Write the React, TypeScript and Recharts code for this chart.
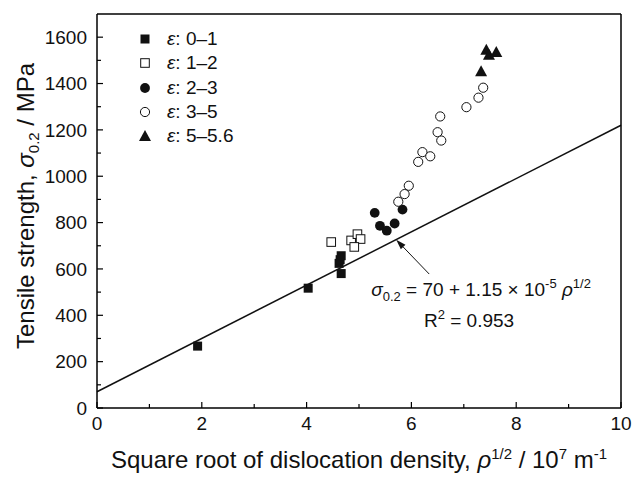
import React from 'react';
import { ComposedChart, Scatter, XAxis, YAxis, ReferenceLine, ReferenceDot, Legend, Label } from 'recharts';

const FONT = '"Liberation Sans", Arial, Helvetica, sans-serif';

// tensile strength (MPa) vs sqrt dislocation density (10^7 m^-1)
const strain01 = [
  { x: 1.92, y: 267 },
  { x: 4.03, y: 517 },
  { x: 4.62, y: 624 },
  { x: 4.64, y: 640 },
  { x: 4.66, y: 657 },
  { x: 4.66, y: 580 },
];
const strain12 = [
  { x: 4.47, y: 716 },
  { x: 4.85, y: 723 },
  { x: 4.97, y: 750 },
  { x: 5.03, y: 729 },
  { x: 4.91, y: 695 },
];
const strain23 = [
  { x: 5.3, y: 842 },
  { x: 5.4, y: 786 },
  { x: 5.53, y: 765 },
  { x: 5.68, y: 796 },
  { x: 5.83, y: 856 },
];
const strain35 = [
  { x: 5.75, y: 890 },
  { x: 5.87, y: 923 },
  { x: 5.95, y: 959 },
  { x: 6.13, y: 1062 },
  { x: 6.21, y: 1104 },
  { x: 6.36, y: 1086 },
  { x: 6.5, y: 1190 },
  { x: 6.57, y: 1154 },
  { x: 6.55, y: 1258 },
  { x: 7.05, y: 1298 },
  { x: 7.28, y: 1339 },
  { x: 7.37, y: 1382 },
];
const strain556 = [
  { x: 7.33, y: 1453 },
  { x: 7.43, y: 1546 },
  { x: 7.48, y: 1524 },
  { x: 7.62, y: 1536 },
];

// linear fit sigma = 70 + 115 * x, end points
const fitX = [0, 10];
const fitY = [70, 1220];

const legendNames = ['0–1', '1–2', '2–3', '3–5', '5–5.6'];
const legendShapes = ['square', 'openSquare', 'circle', 'openCircle', 'triangle'];

const xTicks = [0, 1, 2, 3, 4, 5, 6, 7, 8, 9, 10];
const yTicks = [0, 100, 200, 300, 400, 500, 600, 700, 800, 900, 1000, 1100, 1200, 1300, 1400, 1500, 1600];

const Marker = ({ kind, cx, cy }: any) => {
  if (cx == null || cy == null) return <g />;
  switch (kind) {
    case 'square':
      return <rect x={cx - 4.5} y={cy - 4.5} width={9} height={9} fill="#111" />;
    case 'openSquare':
      return <rect x={cx - 4.3} y={cy - 4.3} width={8.6} height={8.6} fill="#fff" stroke="#111" strokeWidth={1} />;
    case 'circle':
      return <circle cx={cx} cy={cy} r={4.9} fill="#111" />;
    case 'openCircle':
      return <circle cx={cx} cy={cy} r={4.6} fill="#fff" stroke="#111" strokeWidth={1} />;
    default:
      return <path d={`M${cx},${cy - 6} L${cx + 6},${cy + 5} L${cx - 6},${cy + 5} Z`} fill="#111" />;
  }
};

const BottomTick = ({ x, y, payload }: any) => {
  const major = payload.value % 2 === 0;
  return (
    <g>
      <line x1={x} x2={x} y1={y - 8} y2={y - 8 - (major ? 6 : 4)} stroke="#000" strokeWidth={1.2} />
      {major && (
        <text x={x} y={y} dy="0.72em" textAnchor="middle" fontSize={19} fontFamily={FONT} fill="#111">
          {payload.value}
        </text>
      )}
    </g>
  );
};

const TopTick = ({ x, y, payload }: any) => {
  const major = payload.value % 2 === 0;
  return <line x1={x} x2={x} y1={y} y2={y + (major ? 6 : 4)} stroke="#000" strokeWidth={1.2} />;
};

const LeftTick = ({ x, y, payload }: any) => {
  const major = payload.value % 200 === 0;
  return (
    <g>
      <line x1={x + 10} x2={x + 10 + (major ? 6 : 4)} y1={y} y2={y} stroke="#000" strokeWidth={1.2} />
      {major && (
        <text x={x} y={y} dy="0.36em" textAnchor="end" fontSize={19} fontFamily={FONT} fill="#111">
          {payload.value}
        </text>
      )}
    </g>
  );
};

const RightTick = ({ x, y, payload }: any) => {
  const major = payload.value % 200 === 0;
  return <line x1={x} x2={x - (major ? 6 : 4)} y1={y} y2={y} stroke="#000" strokeWidth={1.2} />;
};

const XTitle = ({ viewBox }: any) => {
  const cx = viewBox.x + viewBox.width / 2;
  return (
    <text x={cx} y={viewBox.y + 60} textAnchor="middle" fontSize={24} fontFamily={FONT} fill="#111">
      Square root of dislocation density,{' '}
      <tspan fontStyle="italic">ρ</tspan>
      <tspan fontSize={15} dy={-9}>1/2</tspan>
      <tspan dy={9}> / 10</tspan>
      <tspan fontSize={15} dy={-9}>7</tspan>
      <tspan dy={9}> m</tspan>
      <tspan fontSize={15} dy={-9}>-1</tspan>
    </text>
  );
};

const YTitle = ({ viewBox }: any) => {
  const cy = viewBox.y + viewBox.height / 2 - 5;
  const cx = 34;
  return (
    <text x={cx} y={cy} textAnchor="middle" transform={`rotate(-90 ${cx} ${cy})`} fontSize={24} fontFamily={FONT} fill="#111">
      Tensile strength, <tspan fontStyle="italic">σ</tspan>
      <tspan fontSize={15} dy={5}>0.2</tspan>
      <tspan dy={-5}> / MPa</tspan>
    </text>
  );
};

const EquationLabel = ({ viewBox }: any) => {
  const x = viewBox.x + viewBox.width / 2;
  const y = viewBox.y + viewBox.height / 2;
  return (
    <text x={x} y={y} textAnchor="middle" fontSize={19} fontFamily={FONT} fill="#111">
      <tspan fontStyle="italic">σ</tspan>
      <tspan fontSize={13} dy={5}>0.2</tspan>
      <tspan dy={-5}> = 70 + 1.15 × 10</tspan>
      <tspan fontSize={13} dy={-8}>-5</tspan>
      <tspan dy={8}> </tspan>
      <tspan fontStyle="italic">ρ</tspan>
      <tspan fontSize={13} dy={-8}>1/2</tspan>
    </text>
  );
};

const R2Label = ({ viewBox }: any) => {
  const x = viewBox.x + viewBox.width / 2;
  const y = viewBox.y + viewBox.height / 2;
  return (
    <text x={x} y={y} textAnchor="middle" fontSize={19} fontFamily={FONT} fill="#111">
      R<tspan fontSize={13} dy={-8}>2</tspan>
      <tspan dy={8}> = 0.953</tspan>
    </text>
  );
};

const Arrow = (props: any) => {
  const { x1, y1, x2, y2 } = props;
  const a = Math.atan2(y2 - y1, x2 - x1);
  const len = 10;
  const w = 3.2;
  const bx = x2 - len * Math.cos(a);
  const by = y2 - len * Math.sin(a);
  const px = -Math.sin(a) * w;
  const py = Math.cos(a) * w;
  return (
    <g>
      <line x1={x1} y1={y1} x2={bx} y2={by} stroke="#111" strokeWidth={1} />
      <path d={`M${x2},${y2} L${bx + px},${by + py} L${bx - px},${by - py} Z`} fill="#111" />
    </g>
  );
};

const renderLegend = () => (
  <div style={{ fontFamily: FONT, fontSize: 19, color: '#111' }}>
    {legendNames.map((name, i) => (
      <div key={name} style={{ display: 'flex', alignItems: 'center', height: 24.3 }}>
        <svg width={14} height={14} style={{ marginRight: 15 }}>
          <Marker kind={legendShapes[i]} cx={7} cy={7} />
        </svg>
        <span>
          <i>ε</i>: {name}
        </span>
      </div>
    ))}
  </div>
);

export default function App() {
  return (
    <div style={{ width: 633, height: 477 }}>
      <style>{'body{margin:0}'}</style>
      <ComposedChart width={633} height={477} margin={{ top: 13, right: 11, bottom: 0, left: 0 }}>
        <XAxis
          xAxisId="b"
          type="number"
          dataKey="x"
          domain={[0, 10]}
          ticks={xTicks}
          interval={0}
          height={69}
          tickSize={0}
          tickMargin={8}
          tick={<BottomTick />}
          axisLine={{ stroke: '#000', strokeWidth: 1.5 }}
        >
          <Label content={<XTitle />} />
        </XAxis>
        <XAxis
          xAxisId="t"
          orientation="top"
          type="number"
          dataKey="x"
          domain={[0, 10]}
          ticks={xTicks}
          interval={0}
          height={1}
          tickSize={0}
          tickMargin={0}
          tick={<TopTick />}
          axisLine={{ stroke: '#000', strokeWidth: 1.5 }}
        />
        <YAxis
          yAxisId="l"
          type="number"
          dataKey="y"
          domain={[0, 1700]}
          ticks={yTicks}
          interval={0}
          width={97}
          tickSize={0}
          tickMargin={10}
          tick={<LeftTick />}
          axisLine={{ stroke: '#000', strokeWidth: 1.5 }}
        >
          <Label content={<YTitle />} />
        </YAxis>
        <YAxis
          yAxisId="r"
          orientation="right"
          type="number"
          dataKey="y"
          domain={[0, 1700]}
          ticks={yTicks}
          interval={0}
          width={1}
          tickSize={0}
          tickMargin={0}
          tick={<RightTick />}
          axisLine={{ stroke: '#000', strokeWidth: 1.5 }}
        />
        <ReferenceLine
          xAxisId="b"
          yAxisId="l"
          segment={[{ x: fitX[0], y: fitY[0] }, { x: fitX[1], y: fitY[1] }]}
          stroke="#111"
          strokeWidth={1.5}
        />
        <ReferenceLine
          xAxisId="b"
          yAxisId="l"
          segment={[{ x: 6.34, y: 578 }, { x: 5.71, y: 726 }]}
          shape={<Arrow />}
        />
        <ReferenceDot xAxisId="b" yAxisId="l" x={7.33} y={485} r={0} fill="none" stroke="none" label={<EquationLabel />} />
        <ReferenceDot xAxisId="b" yAxisId="l" x={7.1} y={348} r={0} fill="none" stroke="none" label={<R2Label />} />
        <Scatter xAxisId="b" yAxisId="l" name="0–1" data={strain01} isAnimationActive={false} shape={<Marker kind="square" />} />
        <Scatter xAxisId="b" yAxisId="l" name="1–2" data={strain12} isAnimationActive={false} shape={<Marker kind="openSquare" />} />
        <Scatter xAxisId="b" yAxisId="l" name="2–3" data={strain23} isAnimationActive={false} shape={<Marker kind="circle" />} />
        <Scatter xAxisId="b" yAxisId="l" name="3–5" data={strain35} isAnimationActive={false} shape={<Marker kind="openCircle" />} />
        <Scatter xAxisId="b" yAxisId="l" name="5–5.6" data={strain556} isAnimationActive={false} shape={<Marker kind="triangle" />} />
        <Legend
          layout="vertical"
          align="center"
          verticalAlign="middle"
          content={renderLegend}
          wrapperStyle={{ left: 138, top: 27, width: 'auto', height: 'auto' }}
        />
      </ComposedChart>
    </div>
  );
}
